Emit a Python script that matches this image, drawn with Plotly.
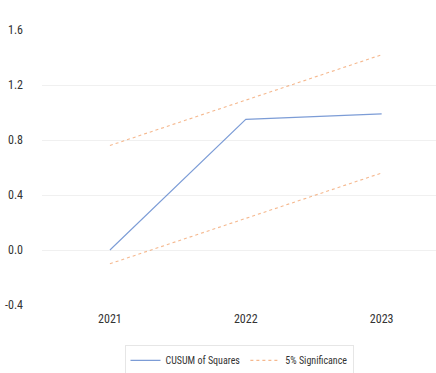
import plotly.graph_objects as go

years = ["2021", "2022", "2023"]
cusum_sq = [0.00, 0.95, 0.99]
upper_5pct = [0.76, 1.09, 1.42]
lower_5pct = [-0.10, 0.23, 0.56]
y_ticks = [-0.4, 0.0, 0.4, 0.8, 1.2, 1.6]
y_tick_text = ["-0.4", "0.0", "0.4", "0.8", "1.2", "1.6"]

blue = "rgba(68,114,196,0.7)"
orange = "rgba(237,125,49,0.55)"

fig = go.Figure()
fig.add_trace(go.Scatter(x=years, y=cusum_sq, mode="lines", name="CUSUM of Squares",
                         line=dict(color=blue, width=1.1)))
fig.add_trace(go.Scatter(x=years, y=upper_5pct, mode="lines", name="5% Significance",
                         line=dict(color=orange, width=1.1, dash="dot")))
fig.add_trace(go.Scatter(x=years, y=lower_5pct, mode="lines", name="5% Significance",
                         showlegend=False, line=dict(color=orange, width=1.1, dash="dot")))

font_family = "Liberation Sans Narrow, Arial Narrow, Roboto Condensed, Roboto, sans-serif"

fig.update_layout(
    width=436, height=373,
    margin=dict(l=42, r=0, t=30, b=68, autoexpand=False),
    paper_bgcolor="white", plot_bgcolor="white",
    font=dict(family=font_family, size=12, color="#333333"),
    showlegend=True,
    legend=dict(orientation="h", x=0.5, xanchor="center", y=-0.145, yanchor="top",
                font=dict(size=10, color="#333333"),
                bordercolor="#e6e6e6", borderwidth=1, itemwidth=30),
    xaxis=dict(type="category", range=[-0.5, 2.4], showgrid=False, zeroline=False,
               showline=False, ticks="", ticklabelstandoff=5, tickfont=dict(size=12)),
    yaxis=dict(range=[-0.4, 1.6], tickvals=y_ticks, ticktext=y_tick_text,
               showgrid=True, gridcolor="#f0f0f0", gridwidth=1, zeroline=False,
               showline=False, ticks="", ticklabelstandoff=18, tickfont=dict(size=12)),
)

fig.write_html("out.html")
